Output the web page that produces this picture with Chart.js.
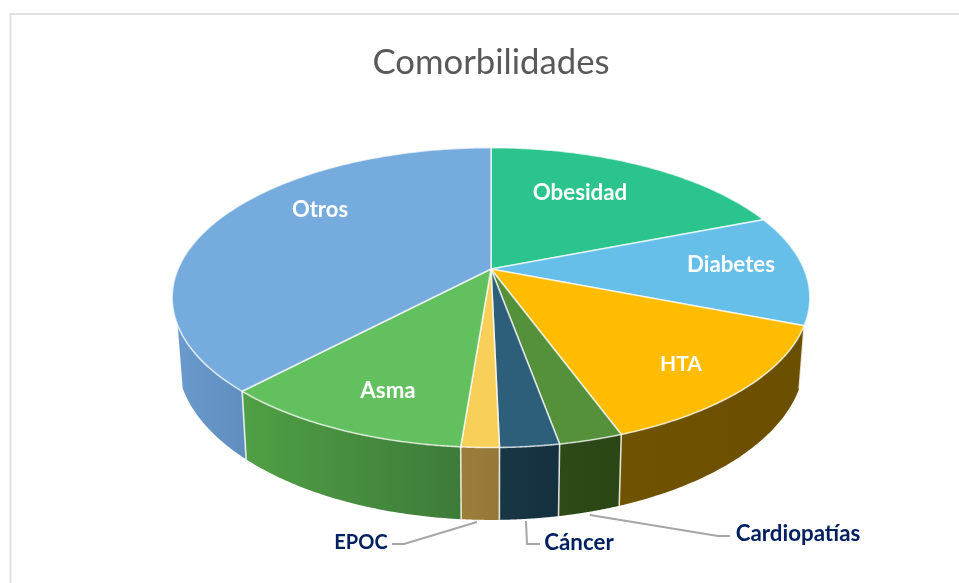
<!DOCTYPE html>
<html><head><meta charset="utf-8">
<style>html,body{margin:0;padding:0;background:#fff}#wrap{position:absolute;left:0;top:0;width:959px;height:583px}</style>
<script src="https://cdn.jsdelivr.net/npm/chart.js@4/dist/chart.umd.min.js"></script>
</head><body><div id="wrap"><canvas id="c" width="959" height="583"></canvas></div>
<script>
const categories=["Obesidad","Diabetes","HTA","Cardiopatías","Cáncer","EPOC","Asma","Otros"];
const shares=[19.05,11.9,13.5,2.7,2.5,1.6,10.75,38.0];
const topColors=["#2BC48D","#65BFE8","#FFBC00","#55903A","#2E5F7A","#F8CF58","#62C05E","#76ABDD"];
const wallColors=[["#1c7a58","#1c7a58"],["#3f7a95","#3f7a95"],["#6B4F00","#6F5300"],["#2A4614","#2E4A18"],["#15303E","#183644"],["#94783A","#9C7E3A"],["#3D7B39","#50A045"],["#5F8EBF","#6A99CC"]];

const P={cx:491,cy:269,rx:313,ry:144.5,k:0.1906,depth:72,shrink:0.016};
const wallFrom=111.3*Math.PI/180, wallTo=248.7*Math.PI/180;
function proj(th,r,dz){const u=r*Math.sin(th),v=-r*Math.cos(th),w=1-P.k*v,d=dz||0;
  return [P.cx+P.rx*u/w*(1-P.shrink*d),P.cy+P.ry*v/w+d*P.depth*0.8137/w];}
function ang(a){return a+Math.PI/2;}
const tilted={id:'tilted',
 beforeDatasetDraw(chart){
  const ctx=chart.ctx,arcs=chart.getDatasetMeta(0).data;
  const segs=arcs.map((a,i)=>({s:ang(a.startAngle),e:ang(a.endAngle),i}));
  ctx.save();
  segs.forEach(({s,e,i})=>{
    const a0=Math.max(s,wallFrom),a1=Math.min(e,wallTo);
    if(a1<=a0) return;
    const top=[],bot=[];
    for(let t=0;t<=60;t++){const th=a0+(a1-a0)*t/60;top.push(proj(th,1,0));bot.push(proj(th,1,1));}
    ctx.beginPath();top.forEach((p,j)=>j?ctx.lineTo(p[0],p[1]):ctx.moveTo(p[0],p[1]));
    for(let j=60;j>=0;j--)ctx.lineTo(bot[j][0],bot[j][1]);ctx.closePath();
    const g=ctx.createLinearGradient(top[0][0],0,top[60][0],0);
    g.addColorStop(0,wallColors[i][0]);g.addColorStop(1,wallColors[i][1]);
    ctx.fillStyle=g;ctx.fill();
    if(a0>wallFrom){
      ctx.strokeStyle='rgba(255,255,255,.8)';ctx.lineWidth=1.6;
      ctx.beginPath();ctx.moveTo(top[0][0],top[0][1]);ctx.lineTo(bot[0][0],bot[0][1]);ctx.stroke();
    }
  });
  segs.forEach(({s,e,i})=>{
    ctx.beginPath();const c=proj(0,0,0);ctx.moveTo(c[0],c[1]);
    for(let t=0;t<=120;t++){const p=proj(s+(e-s)*t/120,1,0);ctx.lineTo(p[0],p[1]);}
    ctx.closePath();ctx.fillStyle=topColors[i];ctx.fill();
    ctx.strokeStyle='rgba(255,255,255,.7)';ctx.lineWidth=1.6;ctx.stroke();
  });
  ctx.restore();
  return false;
 }};
const labelPos={Obesidad:[580,193,'#fff',22.3],Diabetes:[731,265,'#fff',22.3],HTA:[681,364,'#fff',21],Asma:[388,391,'#fff',22.3],Otros:[320,210,'#fff',22],
 EPOC:[361,543,'#002060',20],"Cáncer":[579,543,'#002060',22.3],"Cardiopatías":[798,534,'#002060',22.3]};
const leaders={EPOC:[[392,544],[404,544],[477,522]],"Cáncer":[[540,544],[527,544],[526,521]],"Cardiopatías":[[730,536],[718,536],[590,515]]};
const textPlugin={id:'textPlugin',
 afterDraw(chart){
  const ctx=chart.ctx;ctx.save();
  ctx.strokeStyle='#a6a6a6';ctx.lineWidth=2;
  Object.values(leaders).forEach(l=>{ctx.beginPath();l.forEach((p,j)=>j?ctx.lineTo(p[0],p[1]):ctx.moveTo(p[0],p[1]));ctx.stroke();});
  ctx.textAlign='center';ctx.textBaseline='middle';
  categories.forEach(n=>{const p=labelPos[n];ctx.font='bold '+p[3]+'px Lato';ctx.fillStyle=p[2];ctx.fillText(n,p[0],p[1]);});
  ctx.restore();
 }};
new Chart(document.getElementById('c'),{
 type:'pie',
 data:{labels:categories,datasets:[{data:shares,backgroundColor:topColors,borderWidth:0}]},
 options:{responsive:false,animation:false,events:[],
  layout:{padding:{left:23}},
  plugins:{legend:{display:false},tooltip:{enabled:false},
   title:{display:true,text:'Comorbilidades',color:'#595959',font:{family:'Lato',size:34.7,weight:'normal'},padding:{top:42,bottom:10}}}},
 plugins:[tilted,textPlugin,{id:'frame',beforeDraw(chart){const c=chart.ctx;c.save();c.fillStyle='#fff';c.fillRect(0,0,959,583);c.strokeStyle='#e0e0e0';c.lineWidth=2;c.beginPath();c.moveTo(10.5,583);c.lineTo(10.5,14);c.lineTo(959,14);c.stroke();c.restore();}}]
});
</script></body></html>
